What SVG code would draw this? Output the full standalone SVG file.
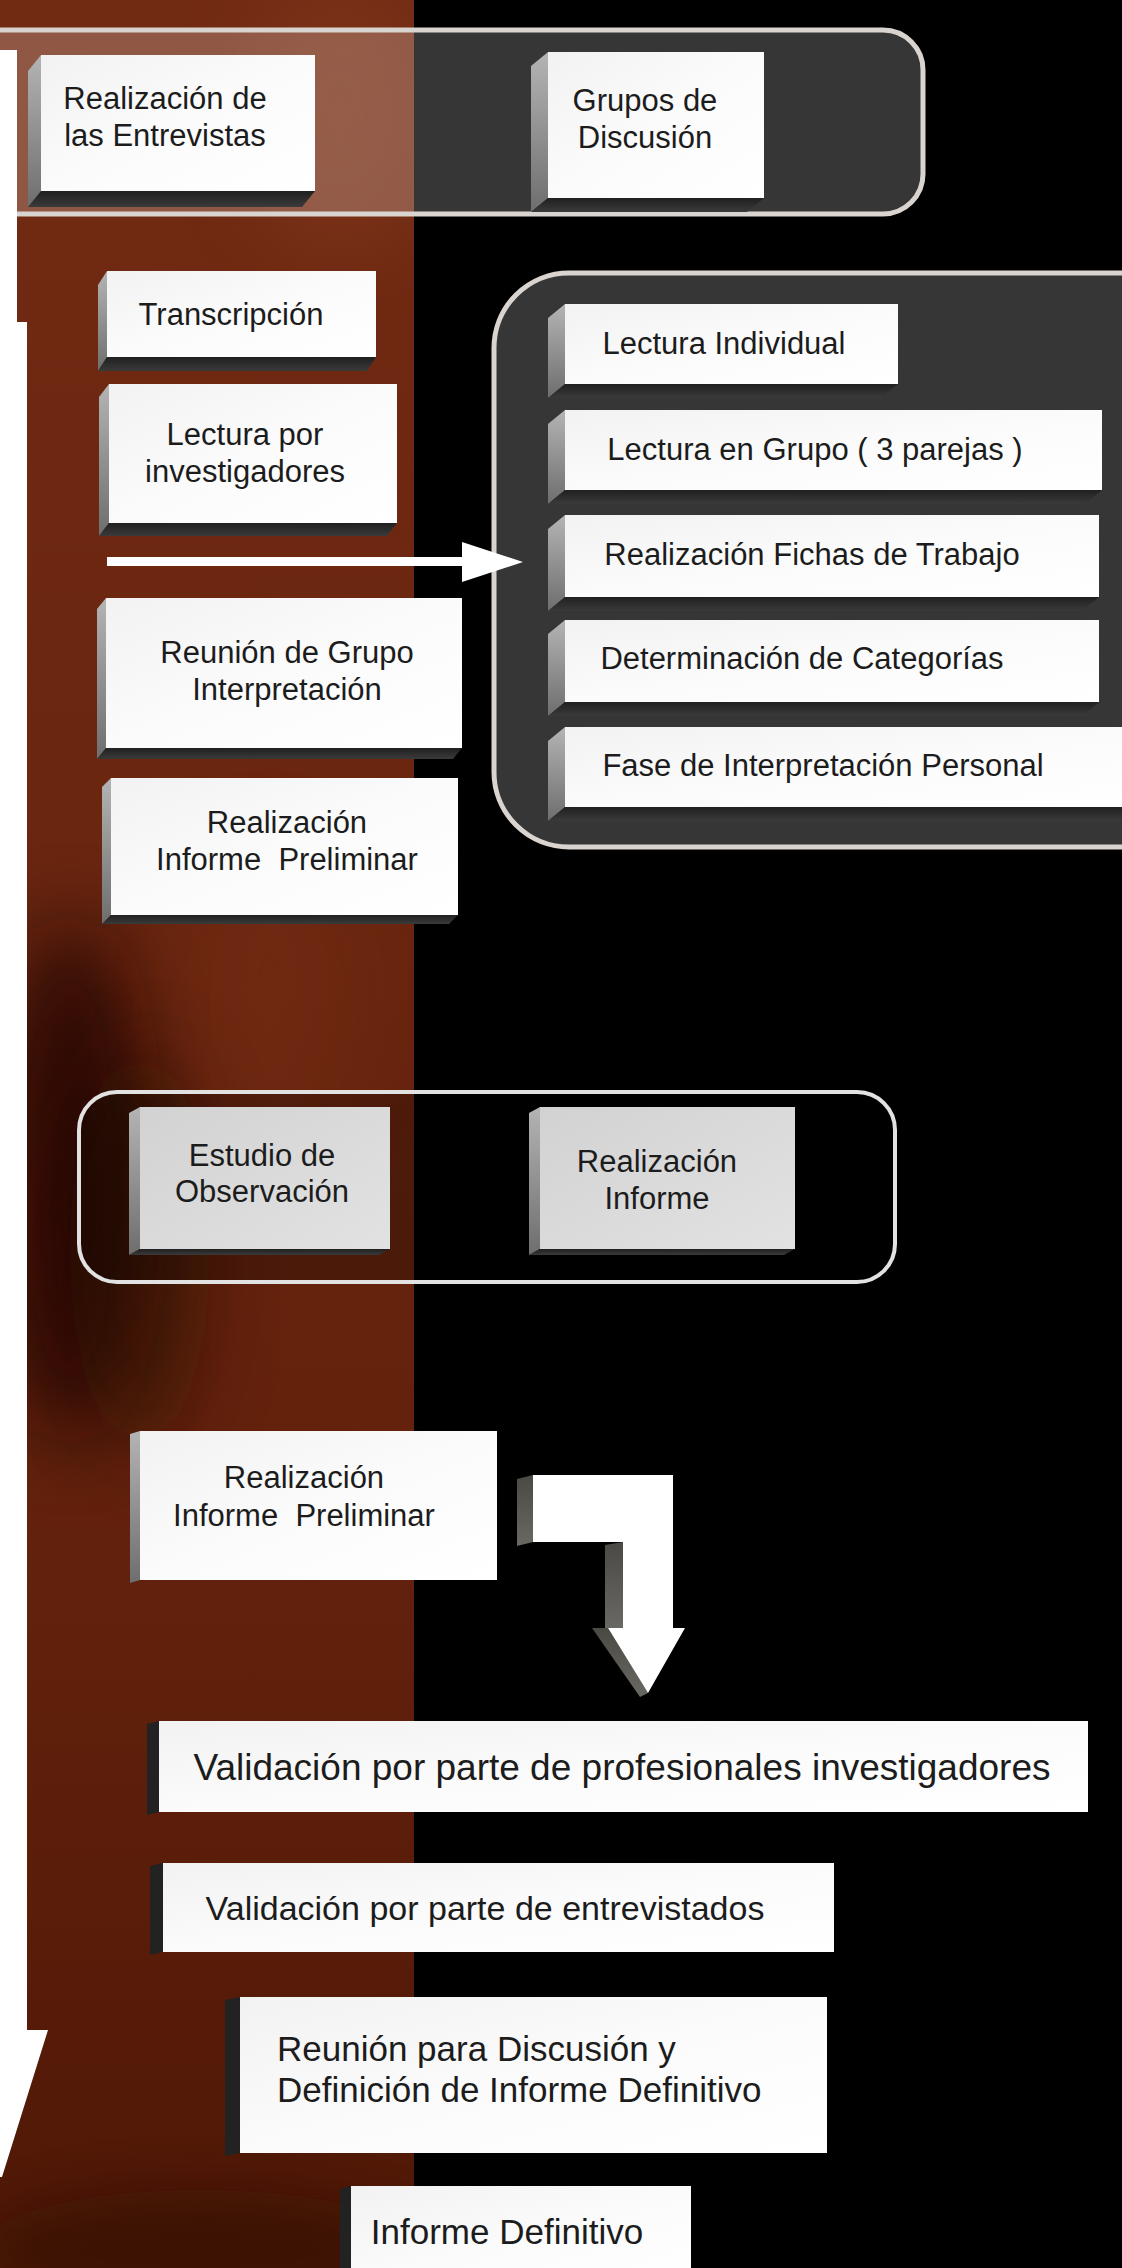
<svg xmlns="http://www.w3.org/2000/svg" width="1122" height="2268" viewBox="0 0 1122 2268">
<defs>
<linearGradient id="brownG" x1="0" y1="0" x2="0" y2="1">
<stop offset="0" stop-color="#722b13"/>
<stop offset="0.35" stop-color="#6b2610"/>
<stop offset="0.7" stop-color="#62210c"/>
<stop offset="1" stop-color="#4f1806"/>
</linearGradient>
<linearGradient id="faceG" x1="0" y1="0" x2="1" y2="1">
<stop offset="0" stop-color="#f2f2f2"/>
<stop offset="0.5" stop-color="#fbfbfb"/>
<stop offset="1" stop-color="#ffffff"/>
</linearGradient>
<linearGradient id="grayFaceG" x1="0" y1="0" x2="1" y2="1">
<stop offset="0" stop-color="#d2d2d2"/>
<stop offset="1" stop-color="#e2e2e2"/>
</linearGradient>
<linearGradient id="sideG" x1="0" y1="0" x2="0" y2="1">
<stop offset="0" stop-color="#b4b4b4"/>
<stop offset="1" stop-color="#6e6e6e"/>
</linearGradient>
<linearGradient id="botG" x1="0" y1="0" x2="0" y2="1">
<stop offset="0" stop-color="#202020"/>
<stop offset="1" stop-color="#3a3a3a"/>
</linearGradient>
<linearGradient id="arrSideG" x1="0" y1="0" x2="0" y2="1">
<stop offset="0" stop-color="#4a4944"/>
<stop offset="1" stop-color="#6a6862"/>
</linearGradient>
<filter id="blur40" x="-50%" y="-50%" width="200%" height="200%"><feGaussianBlur stdDeviation="40"/></filter>
<filter id="blur25" x="-50%" y="-50%" width="200%" height="200%"><feGaussianBlur stdDeviation="25"/></filter>
<clipPath id="brownClip"><rect x="0" y="0" width="414" height="2268"/></clipPath>
<style>
.face{fill:url(#faceG)}
.gface{fill:url(#grayFaceG)}
.side{fill:url(#sideG)}
.sided{fill:#222222}
.bot{fill:url(#botG)}
.t{font-family:"Liberation Sans",Arial,sans-serif;font-size:31px;fill:#1c1c1c;text-anchor:middle}
.tb{font-family:"Liberation Sans",Arial,sans-serif;font-size:35px;fill:#1c1c1c}
.cont{fill:#ffffff;fill-opacity:0.21;stroke:#d9d4cf;stroke-width:5}
.cont3{fill:#000000;fill-opacity:0.25;stroke:#e2e2e2;stroke-width:4}
.wh{fill:#ffffff}
.aside{fill:url(#arrSideG)}
</style>
</defs>

<g id="background">
<rect x="0" y="0" width="1122" height="2268" fill="#000000"/>
<rect x="0" y="0" width="414" height="2268" fill="url(#brownG)"/>
<g clip-path="url(#brownClip)">
<ellipse cx="340" cy="120" rx="100" ry="140" fill="#9c5232" opacity="0.2" filter="url(#blur40)"/>
<ellipse cx="70" cy="1180" rx="70" ry="260" fill="#170602" opacity="0.75" filter="url(#blur40)"/>
<ellipse cx="140" cy="1250" rx="70" ry="200" fill="#230a03" opacity="0.45" filter="url(#blur40)"/>
<ellipse cx="270" cy="1000" rx="80" ry="160" fill="#7e3318" opacity="0.3" filter="url(#blur40)"/>
<ellipse cx="200" cy="2250" rx="220" ry="60" fill="#2a0c03" opacity="0.5" filter="url(#blur25)"/>
</g>
<rect x="414" y="0" width="708" height="2268" fill="#000000"/>
</g>

<g id="containers">
<rect id="c-top" class="cont" x="-60" y="30" width="983" height="184" rx="40"/>
<rect id="c-right" class="cont" x="494" y="273" width="700" height="574" rx="75"/>
<rect id="c-obs" class="cont3" x="79" y="1092" width="816" height="190" rx="38"/>
</g>

<g id="n-entrevistas">
<polygon class="side" points="41,55 28,71 28,207 41,191"/>
<polygon class="bot" points="41,191 315,191 302,207 28,207"/>
<rect class="face" x="41" y="55" width="274" height="136"/>
<text class="t" x="165" y="109">Realización de</text>
<text class="t" x="165" y="146">las Entrevistas</text>
</g>

<g id="n-grupos">
<polygon class="side" points="548,52 531,66 531,212 548,198"/>
<polygon class="bot" points="548,198 764,198 747,212 531,212"/>
<rect class="face" x="548" y="52" width="216" height="146"/>
<text class="t" x="645" y="111">Grupos de</text>
<text class="t" x="645" y="148">Discusión</text>
</g>

<g id="n-transcripcion">
<polygon class="side" points="107,271 98,285 98,371 107,357"/>
<polygon class="bot" points="107,357 376,357 367,371 98,371"/>
<rect class="face" x="107" y="271" width="269" height="86"/>
<text class="t" x="231" y="325">Transcripción</text>
</g>

<g id="n-lectura-investigadores">
<polygon class="side" points="109,384 99,397 99,536 109,523"/>
<polygon class="bot" points="109,523 397,523 387,536 99,536"/>
<rect class="face" x="109" y="384" width="288" height="139"/>
<text class="t" x="245" y="445">Lectura por</text>
<text class="t" x="245" y="482">investigadores</text>
</g>

<g id="n-reunion-grupo">
<polygon class="side" points="106,598 97,609 97,759 106,748"/>
<polygon class="bot" points="106,748 462,748 453,759 97,759"/>
<rect class="face" x="106" y="598" width="356" height="150"/>
<text class="t" x="287" y="663">Reunión de Grupo</text>
<text class="t" x="287" y="700">Interpretación</text>
</g>

<g id="n-informe-preliminar-1">
<polygon class="side" points="111,778 102,787 102,924 111,915"/>
<polygon class="bot" points="111,915 458,915 449,924 102,924"/>
<rect class="face" x="111" y="778" width="347" height="137"/>
<text class="t" x="287" y="833">Realización</text>
<text class="t" x="287" y="870" xml:space="preserve">Informe  Preliminar</text>
</g>

<g id="n-lectura-individual">
<polygon class="side" points="565,304 548,318 548,398 565,384"/>
<polygon class="bot" points="565,384 898,384 881,398 548,398"/>
<rect class="face" x="565" y="304" width="333" height="80"/>
<text class="t" x="724" y="354">Lectura Individual</text>
</g>

<g id="n-lectura-grupo">
<polygon class="side" points="565,410 548,424 548,504 565,490"/>
<polygon class="bot" points="565,490 1102,490 1085,504 548,504"/>
<rect class="face" x="565" y="410" width="537" height="80"/>
<text class="t" x="815" y="460">Lectura en Grupo ( 3 parejas )</text>
</g>

<g id="n-fichas">
<polygon class="side" points="565,515 548,529 548,611 565,597"/>
<polygon class="bot" points="565,597 1099,597 1082,611 548,611"/>
<rect class="face" x="565" y="515" width="534" height="82"/>
<text class="t" x="812" y="565">Realización Fichas de Trabajo</text>
</g>

<g id="n-categorias">
<polygon class="side" points="565,620 548,634 548,716 565,702"/>
<polygon class="bot" points="565,702 1099,702 1082,716 548,716"/>
<rect class="face" x="565" y="620" width="534" height="82"/>
<text class="t" x="802" y="669">Determinación de Categorías</text>
</g>

<g id="n-fase">
<polygon class="side" points="565,727 548,741 548,821 565,807"/>
<polygon class="bot" points="565,807 1165,807 1148,821 548,821"/>
<rect class="face" x="565" y="727" width="600" height="80"/>
<text class="t" x="823" y="776">Fase de Interpretación Personal</text>
</g>

<g id="n-estudio">
<polygon class="side" points="140,1107 129,1113 129,1255 140,1249"/>
<polygon class="bot" points="140,1249 390,1249 379,1255 129,1255"/>
<rect class="gface" x="140" y="1107" width="250" height="142"/>
<text class="t" x="262" y="1166">Estudio de</text>
<text class="t" x="262" y="1202">Observación</text>
</g>

<g id="n-realizacion-informe">
<polygon class="side" points="540,1107 529,1113 529,1255 540,1249"/>
<polygon class="bot" points="540,1249 795,1249 784,1255 529,1255"/>
<rect class="gface" x="540" y="1107" width="255" height="142"/>
<text class="t" x="657" y="1172">Realización</text>
<text class="t" x="657" y="1209">Informe</text>
</g>

<g id="n-informe-preliminar-2">
<polygon class="side" points="140,1431 130,1434 130,1583 140,1580"/>
<rect class="face" x="140" y="1431" width="357" height="149"/>
<text class="t" x="304" y="1488">Realización</text>
<text class="t" x="304" y="1526" xml:space="preserve">Informe  Preliminar</text>
</g>

<g id="n-validacion-profesionales">
<polygon class="sided" points="159,1721 147,1724 147,1815 159,1812"/>
<rect class="face" x="159" y="1721" width="929" height="91"/>
<text class="tb" x="622" y="1780" style="font-size:37px;text-anchor:middle">Validación por parte de profesionales investigadores</text>
</g>

<g id="n-validacion-entrevistados">
<polygon class="sided" points="163,1863 150,1866 150,1955 163,1952"/>
<rect class="face" x="163" y="1863" width="671" height="89"/>
<text class="tb" x="485" y="1920" style="font-size:34px;text-anchor:middle">Validación por parte de entrevistados</text>
</g>

<g id="n-reunion-discusion">
<polygon class="sided" points="240,1997 225,2000 225,2156 240,2153"/>
<rect class="face" x="240" y="1997" width="587" height="156"/>
<text class="tb" x="277" y="2061">Reunión para Discusión y</text>
<text class="tb" x="277" y="2102">Definición de Informe Definitivo</text>
</g>

<g id="n-informe-definitivo">
<polygon class="sided" points="351,2186 340,2189 340,2290 351,2290"/>
<rect class="face" x="351" y="2186" width="340" height="100"/>
<text class="tb" x="507" y="2244" style="text-anchor:middle">Informe Definitivo</text>
</g>

<g id="connectors">
<polygon id="e-main-flow" class="wh" points="0,50 17,50 17,322 27,322 27,2030 48,2030 2,2177 0,2177"/>
<g id="e-lectura-to-group">
<rect class="wh" x="107" y="557" width="356" height="9"/>
<polygon class="wh" points="462,542 523,562 462,582"/>
</g>
<g id="e-preliminar-to-validacion">
<polygon class="aside" points="517,1479 533,1475 533,1542 517,1546"/>
<polygon class="aside" points="605,1545 623,1542 623,1628 605,1628"/>
<polygon class="aside" points="592,1628 608,1628 648,1693 640,1697"/>
<polygon class="wh" points="533,1475 673,1475 673,1628 685,1628 648,1693 608,1628 623,1628 623,1542 533,1542"/>
</g>
</g>
</svg>
